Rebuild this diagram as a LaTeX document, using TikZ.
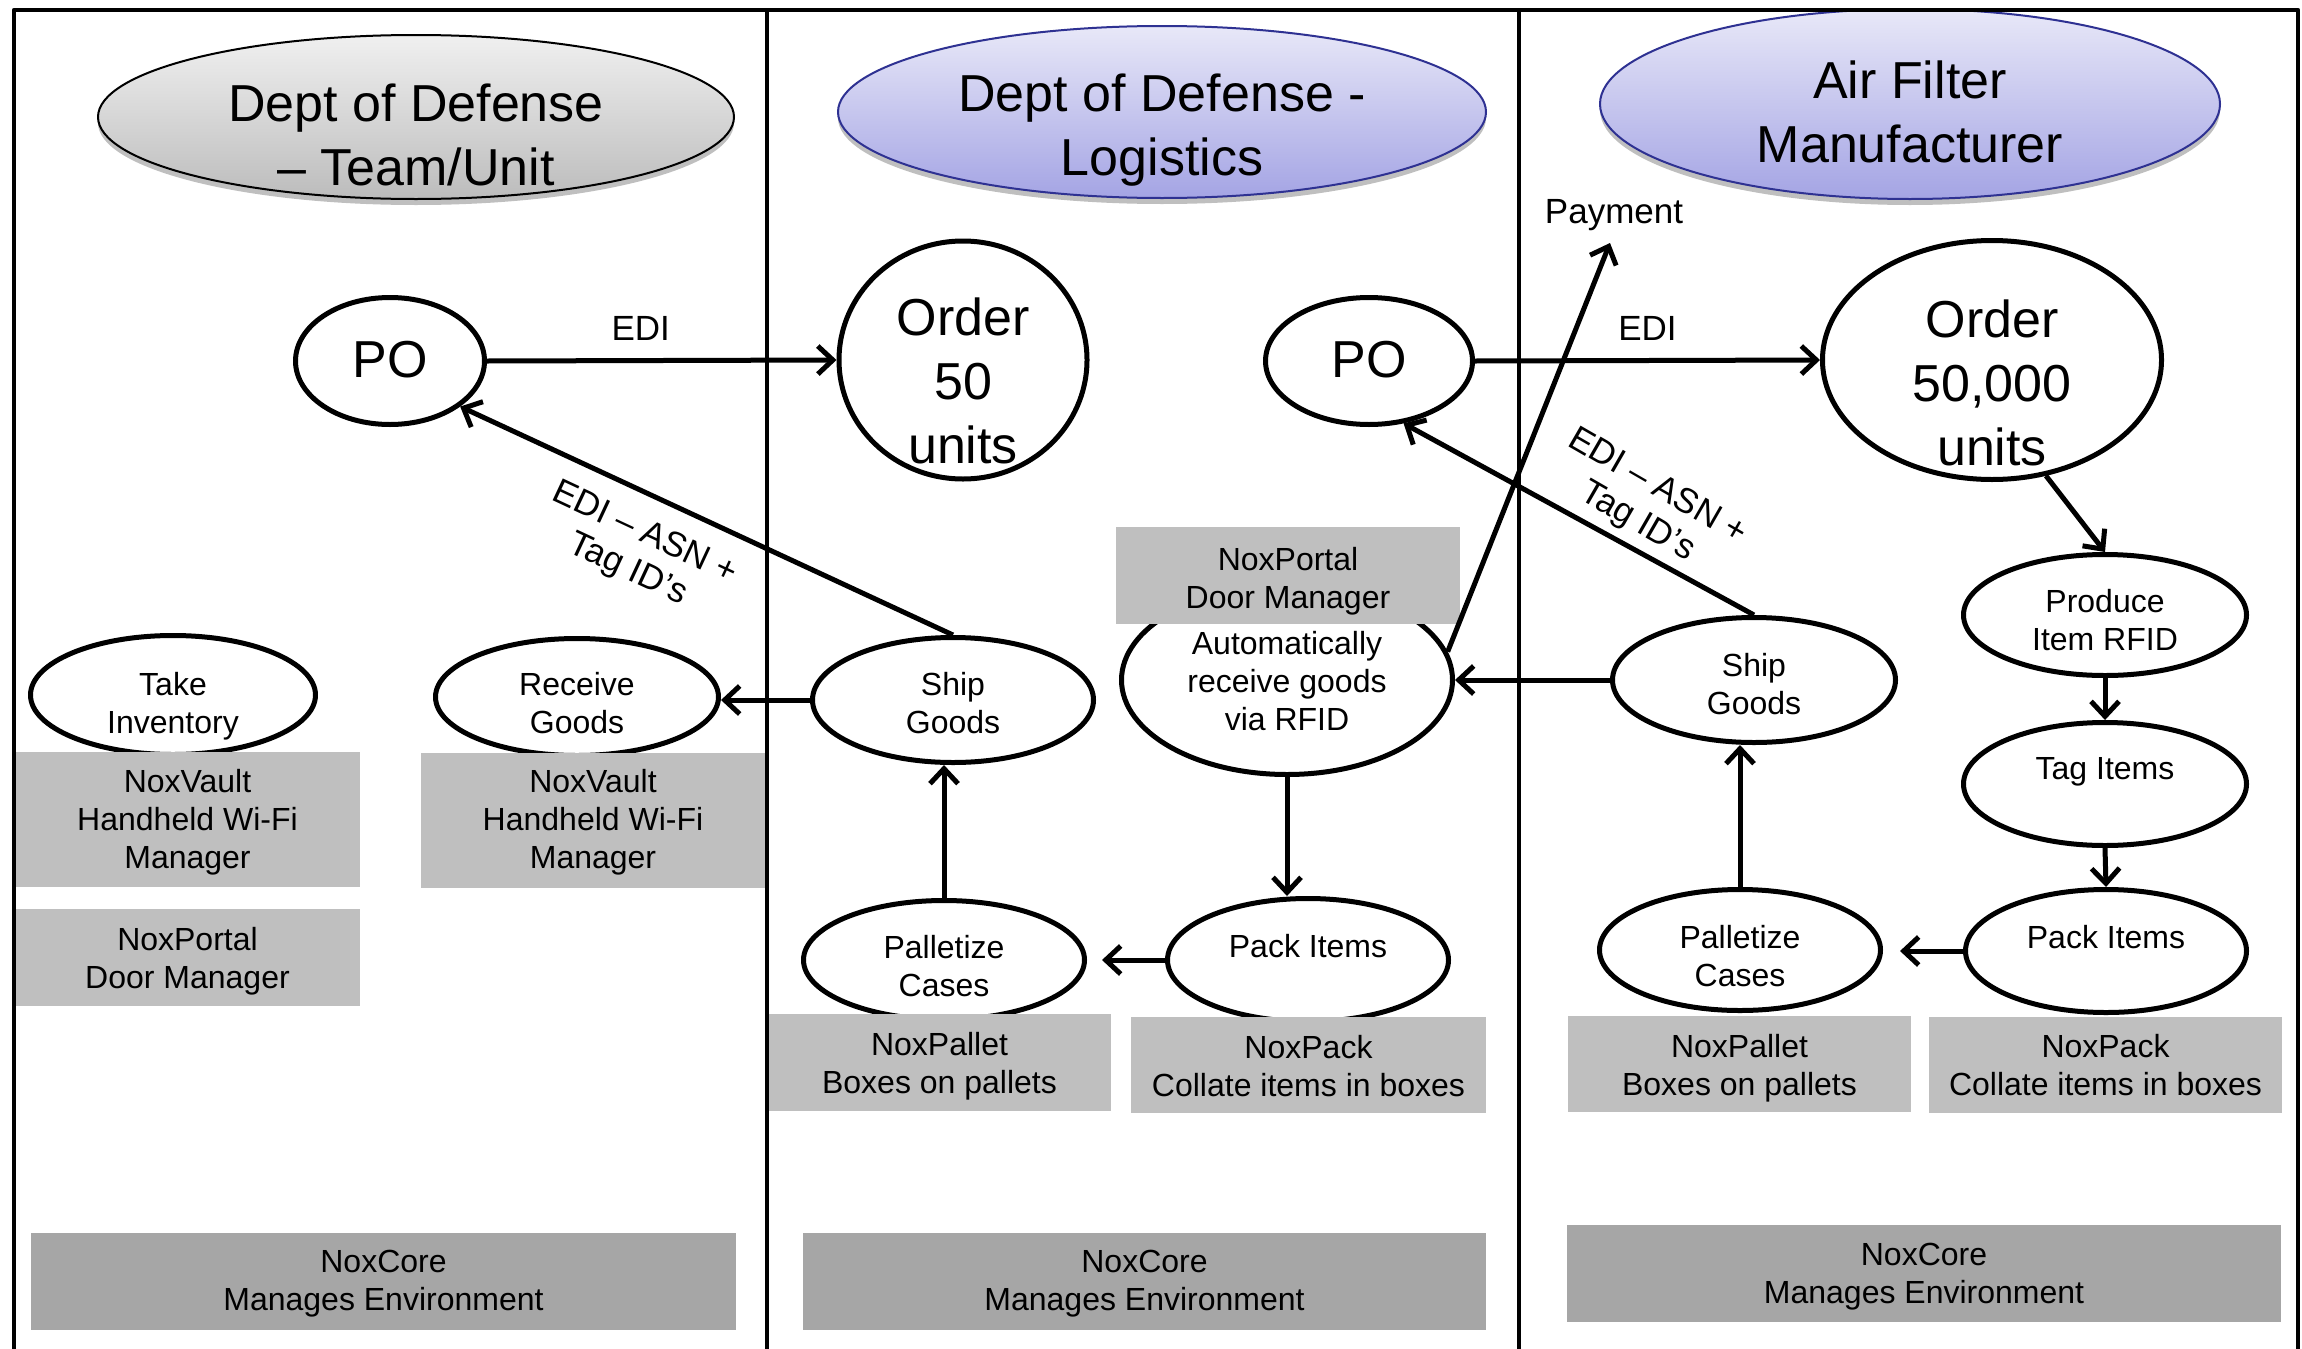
\documentclass[tikz,border=0pt]{standalone}
\usepackage{fontspec}
\setmainfont{Liberation Sans}
\usetikzlibrary{shapes.geometric,arrows.meta,shadows}
\definecolor{boxgray}{HTML}{BFBFBF}
\definecolor{coregray}{HTML}{A6A6A6}
\definecolor{hdrtopgray}{HTML}{F0F0F0}
\definecolor{hdrbotgray}{HTML}{BCBCBC}
\definecolor{hdrtopblue}{HTML}{E8E8F8}
\definecolor{hdrbotblue}{HTML}{A4A4E4}
\definecolor{hdrline}{HTML}{2E3192}
\tikzset{
  frame/.style={line width=4.5pt},
  hdr/.style={ellipse, line width=2pt, inner sep=0pt, align=center,
    font=\fontsize{52}{64}\selectfont,
    drop shadow={shadow xshift=0pt, shadow yshift=-6pt, opacity=0.25, fill=black}},
  hdrgray/.style={hdr, draw=black, top color=hdrtopgray, bottom color=hdrbotgray},
  hdrblue/.style={hdr, draw=hdrline, top color=hdrtopblue, bottom color=hdrbotblue},
  proc/.style={ellipse, draw, line width=5pt, fill=white, inner sep=0pt, align=center,
    font=\fontsize{32}{38}\selectfont},
  big/.style={proc, font=\fontsize{52}{64}\selectfont},
  box/.style={rectangle, fill=boxgray, inner sep=0pt, align=center,
    font=\fontsize{32}{38}\selectfont},
  core/.style={box, fill=coregray},
  lbl/.style={inner sep=0pt, align=center, font=\fontsize{35}{40}\selectfont},
  arr/.style={line width=5pt, -{Straight Barb[length=15pt,width=28pt]}},
  sz/.style 2 args={minimum width=#1pt, minimum height=#2pt},
  up/.style={text height=#1pt, text depth=0pt, inner ysep=-0.5*#1pt},
  dn/.style={text height=0pt, text depth=#1pt},
}
\begin{document}
\begin{tikzpicture}[x=1pt, y=-1pt, line join=round]
\useasboundingbox (0,0) rectangle (2302,1349);

% headers
\node[hdrgray, sz={636}{164}, up=136] (h1) at (416,117) {Dept of Defense\\– Team/Unit};
\node[hdrblue, sz={648}{172}, up=126] (h2) at (1162,112) {Dept of Defense -\\Logistics};
\node[hdrblue, sz={620}{190}, up=116] (h3) at (1910,104) {Air Filter\\Manufacturer};

% process ellipses
\node[big, sz={189}{127}, up=32] (po1) at (390,361) {PO};
\node[big, sz={248}{238}, up=206] (ord1) at (963,360) {Order\\50\\units};
\node[big, sz={207}{127}, up=32] (po2) at (1369,361) {PO};
\node[big, sz={339}{239}, up=210] (ord2) at (1992,360) {Order\\50,000\\units};

\node[proc, sz={285}{119}, up=76] (take) at (173,695) {Take\\Inventory};
\node[proc, sz={283}{117}, up=72] (recv) at (577,697) {Receive\\Goods};
\node[proc, sz={281}{125}, up=66] (ship1) at (953,700) {Ship\\Goods};
\node[proc, sz={331}{189}, up=100] (auto) at (1287,680) {Automatically\\receive goods\\via RFID};
\node[proc, sz={281}{119}, up=72] (pal1) at (944,960) {Palletize\\Cases};
\node[proc, sz={281}{123}, dn=6] (pack1) at (1308,960) {Pack Items};
\node[proc, sz={283}{125}, up=68] (ship2) at (1754,680) {Ship\\Goods};
\node[proc, sz={281}{121}, up=72] (pal2) at (1740,950) {Palletize\\Cases};
\node[proc, sz={281}{123}, dn=6] (pack2) at (2106,951) {Pack Items};
\node[proc, sz={283}{121}, up=70] (prod) at (2105,615) {Produce\\Item RFID};
\node[proc, sz={283}{123}, dn=10] (tag) at (2105,784) {Tag Items};

% product boxes
\node[box, sz={345}{135}, up=97] (vault1) at (187.5,819.5) {NoxVault\\Handheld Wi-Fi\\Manager};
\node[box, sz={344}{135}, up=95] (vault2) at (593,820.5) {NoxVault\\Handheld Wi-Fi\\Manager};
\node[box, sz={345}{97}, up=61] (portal1) at (187.5,957.5) {NoxPortal\\Door Manager};
\node[box, sz={344}{97}, up=65] (portal2) at (1288,575.5) {NoxPortal\\Door Manager};
\node[box, sz={343}{97}, up=61] (palbox1) at (939.5,1062.5) {NoxPallet\\Boxes on pallets};
\node[box, sz={355}{96}, up=62] (packbox1) at (1308.5,1065) {NoxPack\\Collate items in boxes};
\node[box, sz={343}{96}, up=62] (palbox2) at (1739.5,1064) {NoxPallet\\Boxes on pallets};
\node[box, sz={353}{96}, up=60] (packbox2) at (2105.5,1065) {NoxPack\\Collate items in boxes};
\node[core, sz={705}{97}, up=57] (core1) at (383.5,1281.5) {NoxCore\\Manages Environment};
\node[core, sz={683}{97}, up=57] (core2) at (1144.5,1281.5) {NoxCore\\Manages Environment};
\node[core, sz={714}{97}, up=59] (core3) at (1924,1273.5) {NoxCore\\Manages Environment};

% labels
\node[lbl, rotate=-25] (asn1) at (636,552) {EDI – ASN +\\Tag ID’s};
\node[lbl, rotate=-30] (asn2) at (1647,505) {EDI – ASN +\\Tag ID’s};
\node[lbl, anchor=base] (pay) at (1614,223) {Payment};
\coordinate (paytip) at (1610,243);

% connectors
\draw[arr] (po1.east) -- node[lbl, pos=0.44, anchor=base, yshift=20pt] (edi1) {EDI} (ord1.west);
\draw[arr] (po2.east) -- node[lbl, pos=0.50, anchor=base, yshift=20pt] (edi2) {EDI} (ord2.west);
\draw[arr] (ship1.north) -- (po1.-33);
\draw[arr] (ship2.north) -- (po2.-61);
\draw[arr] (ship1.west) -- (recv.east |- ship1.west);
\draw[arr] (pal1.north) -- (pal1.north |- ship1.south);
\draw[arr] (auto.south) -- (auto.south |- pack1.north);
\draw[arr, shorten >=15pt] (pack1.west) -- (pack1.west -| pal1.east);
\draw[arr] (ship2.west) -- (ship2.west -| auto.east);
\draw[arr] (pal2.north) -- (pal2.north |- ship2.south);
\draw[arr, shorten >=17pt] (pack2.west) -- (pack2.west -| pal2.east);
\draw[arr] (prod.south) -- (tag.north);
\draw[arr] (tag.south) -- (pack2.north);
\draw[arr] (ord2.-65) -- (prod.north);
\draw[arr] (auto.10) -- (paytip);

% frame
\draw[frame] (14,1349) -- (14,10) -- (2298,10) -- (2298,1349);
\draw[frame] (767,10) -- (767,1349);
\draw[frame] (1519,10) -- (1519,1349);
\end{tikzpicture}
\end{document}
